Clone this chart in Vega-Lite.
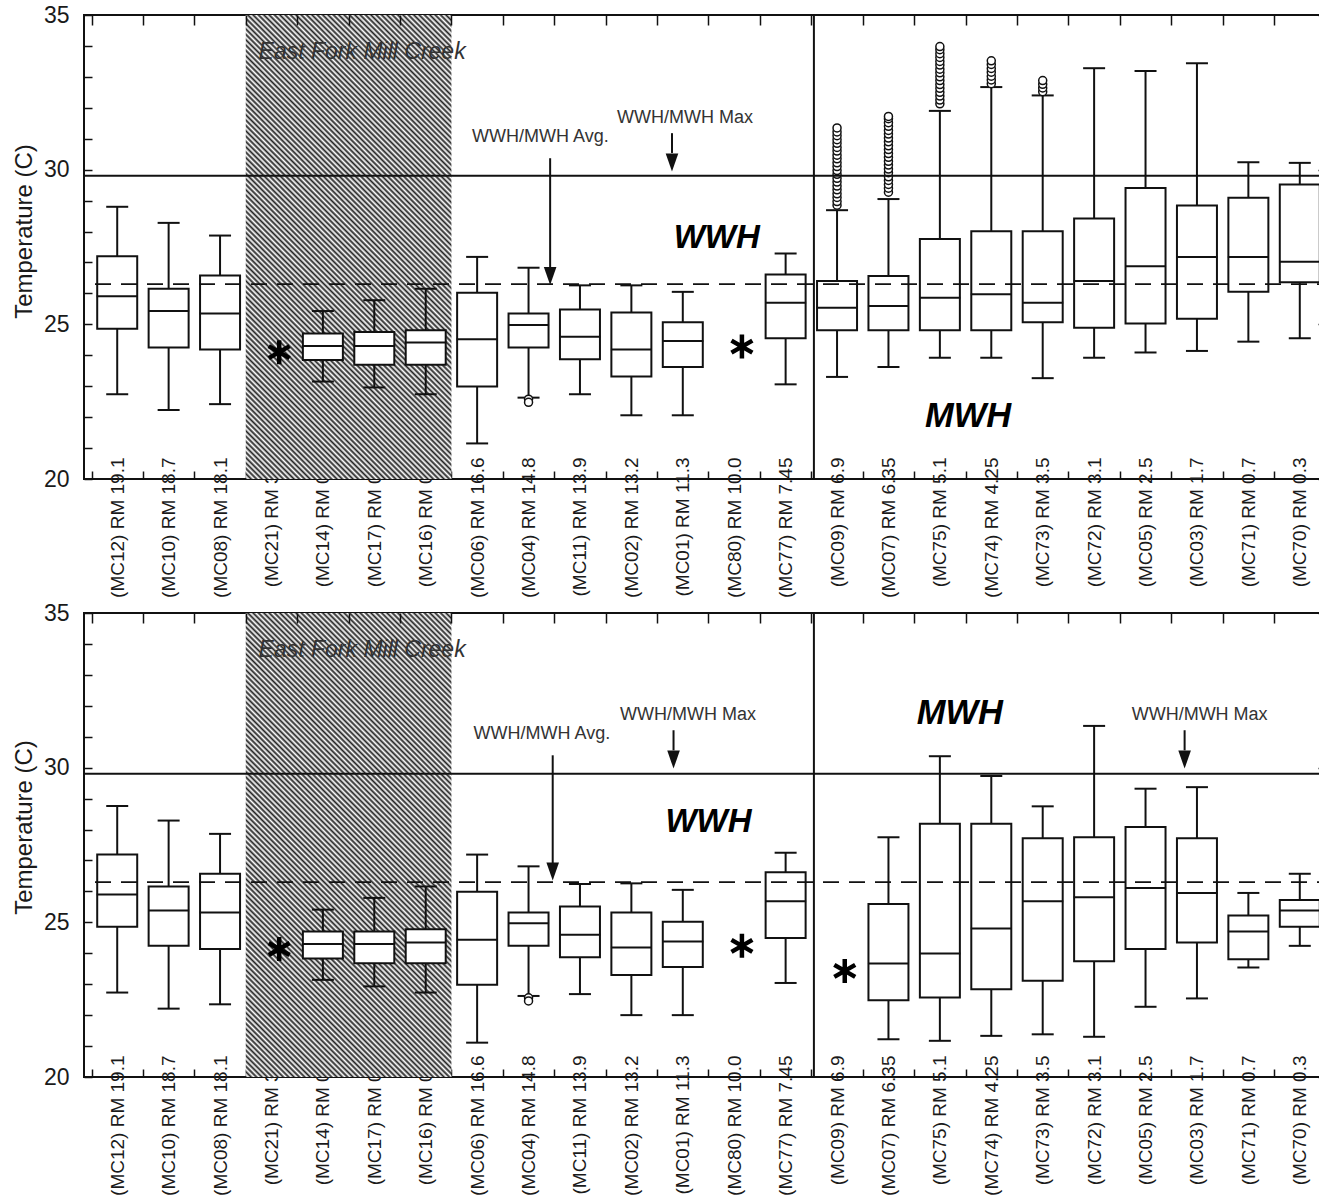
{
"$schema":"https://vega.github.io/schema/vega-lite/v6.json",
"background":"white",
"padding":{"left":11,"top":3,"right":-15,"bottom":0},
"spacing":2,
"config":{
 "view":{"stroke":"#111","strokeWidth":2},
 "font":"Liberation Sans",
 "axis":{"grid":false,"domain":false,"tickColor":"#111","tickWidth":1.5,"labelColor":"#1a1a1a","titleColor":"#1a1a1a","labelFont":"Liberation Sans","titleFont":"Liberation Sans","titleFontWeight":"normal"}
},
"datasets":{
 "hatch":[{"from":"(MC21) RM 3.3","to":"(MC16) RM 0.1"}],
 "boxes":[
{"panel":"top","site":"(MC12) RM 19.1","lo":22.74,"q1":24.86,"med":25.91,"q3":27.2,"hi":28.8},
{"panel":"top","site":"(MC10) RM 18.7","lo":22.23,"q1":24.25,"med":25.43,"q3":26.15,"hi":28.28},
{"panel":"top","site":"(MC08) RM 18.1","lo":22.42,"q1":24.19,"med":25.35,"q3":26.58,"hi":27.87},
{"panel":"top","site":"(MC14) RM 0.7","lo":23.15,"q1":23.85,"med":24.3,"q3":24.7,"hi":25.43},
{"panel":"top","site":"(MC17) RM 0.3","lo":22.96,"q1":23.69,"med":24.3,"q3":24.75,"hi":25.78},
{"panel":"top","site":"(MC16) RM 0.1","lo":22.74,"q1":23.69,"med":24.41,"q3":24.81,"hi":26.15},
{"panel":"top","site":"(MC06) RM 16.6","lo":21.15,"q1":22.99,"med":24.52,"q3":26.02,"hi":27.18},
{"panel":"top","site":"(MC04) RM 14.8","lo":22.63,"q1":24.25,"med":24.98,"q3":25.35,"hi":26.83},
{"panel":"top","site":"(MC11) RM 13.9","lo":22.74,"q1":23.87,"med":24.6,"q3":25.48,"hi":26.26},
{"panel":"top","site":"(MC02) RM 13.2","lo":22.06,"q1":23.31,"med":24.19,"q3":25.38,"hi":26.26},
{"panel":"top","site":"(MC01) RM 11.3","lo":22.06,"q1":23.62,"med":24.46,"q3":25.07,"hi":26.05},
{"panel":"top","site":"(MC77) RM 7.45","lo":23.06,"q1":24.55,"med":25.7,"q3":26.61,"hi":27.29},
{"panel":"top","site":"(MC09) RM 6.9","lo":23.3,"q1":24.81,"med":25.54,"q3":26.4,"hi":28.69},
{"panel":"top","site":"(MC07) RM 6.35","lo":23.62,"q1":24.81,"med":25.59,"q3":26.56,"hi":29.05},
{"panel":"top","site":"(MC75) RM 5.1","lo":23.92,"q1":24.81,"med":25.86,"q3":27.76,"hi":31.9},
{"panel":"top","site":"(MC74) RM 4.25","lo":23.92,"q1":24.81,"med":25.97,"q3":28.01,"hi":32.67},
{"panel":"top","site":"(MC73) RM 3.5","lo":23.26,"q1":25.07,"med":25.7,"q3":28.01,"hi":32.4},
{"panel":"top","site":"(MC72) RM 3.1","lo":23.92,"q1":24.89,"med":26.4,"q3":28.42,"hi":33.28},
{"panel":"top","site":"(MC05) RM 2.5","lo":24.09,"q1":25.03,"med":26.88,"q3":29.41,"hi":33.19},
{"panel":"top","site":"(MC03) RM 1.7","lo":24.14,"q1":25.18,"med":27.18,"q3":28.84,"hi":33.44},
{"panel":"top","site":"(MC71) RM 0.7","lo":24.44,"q1":26.05,"med":27.18,"q3":29.09,"hi":30.24},
{"panel":"top","site":"(MC70) RM 0.3","lo":24.55,"q1":26.36,"med":27.02,"q3":29.52,"hi":30.22},
{"panel":"bottom","site":"(MC12) RM 19.1","lo":22.73,"q1":24.86,"med":25.9,"q3":27.19,"hi":28.76},
{"panel":"bottom","site":"(MC10) RM 18.7","lo":22.21,"q1":24.24,"med":25.38,"q3":26.16,"hi":28.29},
{"panel":"bottom","site":"(MC08) RM 18.1","lo":22.35,"q1":24.14,"med":25.32,"q3":26.57,"hi":27.86},
{"panel":"bottom","site":"(MC14) RM 0.7","lo":23.14,"q1":23.83,"med":24.3,"q3":24.7,"hi":25.41},
{"panel":"bottom","site":"(MC17) RM 0.3","lo":22.93,"q1":23.68,"med":24.3,"q3":24.7,"hi":25.79},
{"panel":"bottom","site":"(MC16) RM 0.1","lo":22.73,"q1":23.68,"med":24.35,"q3":24.78,"hi":26.16},
{"panel":"bottom","site":"(MC06) RM 16.6","lo":21.11,"q1":22.98,"med":24.44,"q3":25.99,"hi":27.19},
{"panel":"bottom","site":"(MC04) RM 14.8","lo":22.62,"q1":24.24,"med":24.97,"q3":25.32,"hi":26.81},
{"panel":"bottom","site":"(MC11) RM 13.9","lo":22.68,"q1":23.87,"med":24.6,"q3":25.51,"hi":26.24},
{"panel":"bottom","site":"(MC02) RM 13.2","lo":22.0,"q1":23.3,"med":24.19,"q3":25.32,"hi":26.26},
{"panel":"bottom","site":"(MC01) RM 11.3","lo":22.0,"q1":23.56,"med":24.38,"q3":25.02,"hi":26.05},
{"panel":"bottom","site":"(MC77) RM 7.45","lo":23.04,"q1":24.49,"med":25.68,"q3":26.62,"hi":27.25},
{"panel":"bottom","site":"(MC07) RM 6.35","lo":21.22,"q1":22.48,"med":23.67,"q3":25.59,"hi":27.75},
{"panel":"bottom","site":"(MC75) RM 5.1","lo":21.17,"q1":22.57,"med":23.99,"q3":28.19,"hi":30.37},
{"panel":"bottom","site":"(MC74) RM 4.25","lo":21.33,"q1":22.84,"med":24.8,"q3":28.19,"hi":29.73},
{"panel":"bottom","site":"(MC73) RM 3.5","lo":21.38,"q1":23.11,"med":25.68,"q3":27.72,"hi":28.75},
{"panel":"bottom","site":"(MC72) RM 3.1","lo":21.3,"q1":23.74,"med":25.81,"q3":27.75,"hi":31.35},
{"panel":"bottom","site":"(MC05) RM 2.5","lo":22.27,"q1":24.14,"med":26.11,"q3":28.08,"hi":29.32},
{"panel":"bottom","site":"(MC03) RM 1.7","lo":22.54,"q1":24.35,"med":25.95,"q3":27.72,"hi":29.37},
{"panel":"bottom","site":"(MC71) RM 0.7","lo":23.54,"q1":23.81,"med":24.7,"q3":25.22,"hi":25.95},
{"panel":"bottom","site":"(MC70) RM 0.3","lo":24.24,"q1":24.86,"med":25.38,"q3":25.72,"hi":26.57}
 ],
 "outliers":[
{"panel":"top","site":"(MC04) RM 14.8","v":22.58},{"panel":"top","site":"(MC04) RM 14.8","v":22.48},
{"panel":"top","site":"(MC09) RM 6.9","v":28.85},{"panel":"top","site":"(MC09) RM 6.9","v":28.97},{"panel":"top","site":"(MC09) RM 6.9","v":29.1},{"panel":"top","site":"(MC09) RM 6.9","v":29.22},{"panel":"top","site":"(MC09) RM 6.9","v":29.35},{"panel":"top","site":"(MC09) RM 6.9","v":29.47},{"panel":"top","site":"(MC09) RM 6.9","v":29.6},{"panel":"top","site":"(MC09) RM 6.9","v":29.72},{"panel":"top","site":"(MC09) RM 6.9","v":29.85},{"panel":"top","site":"(MC09) RM 6.9","v":29.97},{"panel":"top","site":"(MC09) RM 6.9","v":30.1},{"panel":"top","site":"(MC09) RM 6.9","v":30.22},{"panel":"top","site":"(MC09) RM 6.9","v":30.35},{"panel":"top","site":"(MC09) RM 6.9","v":30.47},{"panel":"top","site":"(MC09) RM 6.9","v":30.6},{"panel":"top","site":"(MC09) RM 6.9","v":30.72},{"panel":"top","site":"(MC09) RM 6.9","v":30.85},{"panel":"top","site":"(MC09) RM 6.9","v":30.97},{"panel":"top","site":"(MC09) RM 6.9","v":31.1},{"panel":"top","site":"(MC09) RM 6.9","v":31.22},{"panel":"top","site":"(MC09) RM 6.9","v":31.35},
{"panel":"top","site":"(MC07) RM 6.35","v":29.27},{"panel":"top","site":"(MC07) RM 6.35","v":29.4},{"panel":"top","site":"(MC07) RM 6.35","v":29.52},{"panel":"top","site":"(MC07) RM 6.35","v":29.65},{"panel":"top","site":"(MC07) RM 6.35","v":29.77},{"panel":"top","site":"(MC07) RM 6.35","v":29.9},{"panel":"top","site":"(MC07) RM 6.35","v":30.02},{"panel":"top","site":"(MC07) RM 6.35","v":30.15},{"panel":"top","site":"(MC07) RM 6.35","v":30.27},{"panel":"top","site":"(MC07) RM 6.35","v":30.4},{"panel":"top","site":"(MC07) RM 6.35","v":30.52},{"panel":"top","site":"(MC07) RM 6.35","v":30.65},{"panel":"top","site":"(MC07) RM 6.35","v":30.77},{"panel":"top","site":"(MC07) RM 6.35","v":30.9},{"panel":"top","site":"(MC07) RM 6.35","v":31.02},{"panel":"top","site":"(MC07) RM 6.35","v":31.15},{"panel":"top","site":"(MC07) RM 6.35","v":31.27},{"panel":"top","site":"(MC07) RM 6.35","v":31.4},{"panel":"top","site":"(MC07) RM 6.35","v":31.52},{"panel":"top","site":"(MC07) RM 6.35","v":31.65},{"panel":"top","site":"(MC07) RM 6.35","v":31.72},
{"panel":"top","site":"(MC75) RM 5.1","v":32.13},{"panel":"top","site":"(MC75) RM 5.1","v":32.25},{"panel":"top","site":"(MC75) RM 5.1","v":32.38},{"panel":"top","site":"(MC75) RM 5.1","v":32.5},{"panel":"top","site":"(MC75) RM 5.1","v":32.63},{"panel":"top","site":"(MC75) RM 5.1","v":32.75},{"panel":"top","site":"(MC75) RM 5.1","v":32.88},{"panel":"top","site":"(MC75) RM 5.1","v":33.0},{"panel":"top","site":"(MC75) RM 5.1","v":33.13},{"panel":"top","site":"(MC75) RM 5.1","v":33.25},{"panel":"top","site":"(MC75) RM 5.1","v":33.38},{"panel":"top","site":"(MC75) RM 5.1","v":33.5},{"panel":"top","site":"(MC75) RM 5.1","v":33.63},{"panel":"top","site":"(MC75) RM 5.1","v":33.75},{"panel":"top","site":"(MC75) RM 5.1","v":33.88},{"panel":"top","site":"(MC75) RM 5.1","v":33.98},
{"panel":"top","site":"(MC74) RM 4.25","v":32.78},{"panel":"top","site":"(MC74) RM 4.25","v":32.9},{"panel":"top","site":"(MC74) RM 4.25","v":33.02},{"panel":"top","site":"(MC74) RM 4.25","v":33.15},{"panel":"top","site":"(MC74) RM 4.25","v":33.27},{"panel":"top","site":"(MC74) RM 4.25","v":33.4},{"panel":"top","site":"(MC74) RM 4.25","v":33.52},
{"panel":"top","site":"(MC73) RM 3.5","v":32.52},{"panel":"top","site":"(MC73) RM 3.5","v":32.64},{"panel":"top","site":"(MC73) RM 3.5","v":32.76},{"panel":"top","site":"(MC73) RM 3.5","v":32.88},
{"panel":"bottom","site":"(MC04) RM 14.8","v":22.56},{"panel":"bottom","site":"(MC04) RM 14.8","v":22.46}
 ],
 "stars":[
{"panel":"top","site":"(MC21) RM 3.3","v":24.1},{"panel":"top","site":"(MC80) RM 10.0","v":24.28},
{"panel":"bottom","site":"(MC21) RM 3.3","v":24.14},{"panel":"bottom","site":"(MC80) RM 10.0","v":24.24},{"panel":"bottom","site":"(MC09) RM 6.9","v":23.43}
 ]
},
"vconcat":[
{
"width":1249,"height":464,
"layer":[
 {"data":{"name":"hatch"},"mark":{"type":"rect","stroke":null,"fill":{"gradient":"linear","x1":0,"y1":1,"x2":0.5347,"y2":-0.2062,"stops":[
{"offset":0,"color":"#222"},{"offset":0.004,"color":"#fff"},{"offset":0.008,"color":"#222"},{"offset":0.012,"color":"#fff"},{"offset":0.016,"color":"#222"},{"offset":0.02,"color":"#fff"},{"offset":0.024,"color":"#222"},{"offset":0.028,"color":"#fff"},{"offset":0.032,"color":"#222"},{"offset":0.036,"color":"#fff"},{"offset":0.04,"color":"#222"},{"offset":0.044,"color":"#fff"},{"offset":0.048,"color":"#222"},{"offset":0.052,"color":"#fff"},{"offset":0.056,"color":"#222"},{"offset":0.06,"color":"#fff"},{"offset":0.064,"color":"#222"},{"offset":0.068,"color":"#fff"},{"offset":0.072,"color":"#222"},{"offset":0.076,"color":"#fff"},{"offset":0.08,"color":"#222"},{"offset":0.084,"color":"#fff"},{"offset":0.088,"color":"#222"},{"offset":0.092,"color":"#fff"},{"offset":0.096,"color":"#222"},
{"offset":0.1,"color":"#fff"},{"offset":0.104,"color":"#222"},{"offset":0.108,"color":"#fff"},{"offset":0.112,"color":"#222"},{"offset":0.116,"color":"#fff"},{"offset":0.12,"color":"#222"},{"offset":0.124,"color":"#fff"},{"offset":0.128,"color":"#222"},{"offset":0.132,"color":"#fff"},{"offset":0.136,"color":"#222"},{"offset":0.14,"color":"#fff"},{"offset":0.144,"color":"#222"},{"offset":0.148,"color":"#fff"},{"offset":0.152,"color":"#222"},{"offset":0.156,"color":"#fff"},{"offset":0.16,"color":"#222"},{"offset":0.164,"color":"#fff"},{"offset":0.168,"color":"#222"},{"offset":0.172,"color":"#fff"},{"offset":0.176,"color":"#222"},{"offset":0.18,"color":"#fff"},{"offset":0.184,"color":"#222"},{"offset":0.188,"color":"#fff"},{"offset":0.192,"color":"#222"},{"offset":0.196,"color":"#fff"},
{"offset":0.2,"color":"#222"},{"offset":0.204,"color":"#fff"},{"offset":0.208,"color":"#222"},{"offset":0.212,"color":"#fff"},{"offset":0.216,"color":"#222"},{"offset":0.22,"color":"#fff"},{"offset":0.224,"color":"#222"},{"offset":0.228,"color":"#fff"},{"offset":0.232,"color":"#222"},{"offset":0.236,"color":"#fff"},{"offset":0.24,"color":"#222"},{"offset":0.244,"color":"#fff"},{"offset":0.248,"color":"#222"},{"offset":0.252,"color":"#fff"},{"offset":0.256,"color":"#222"},{"offset":0.26,"color":"#fff"},{"offset":0.264,"color":"#222"},{"offset":0.268,"color":"#fff"},{"offset":0.272,"color":"#222"},{"offset":0.276,"color":"#fff"},{"offset":0.28,"color":"#222"},{"offset":0.284,"color":"#fff"},{"offset":0.288,"color":"#222"},{"offset":0.292,"color":"#fff"},{"offset":0.296,"color":"#222"},
{"offset":0.3,"color":"#fff"},{"offset":0.304,"color":"#222"},{"offset":0.308,"color":"#fff"},{"offset":0.312,"color":"#222"},{"offset":0.316,"color":"#fff"},{"offset":0.32,"color":"#222"},{"offset":0.324,"color":"#fff"},{"offset":0.328,"color":"#222"},{"offset":0.332,"color":"#fff"},{"offset":0.336,"color":"#222"},{"offset":0.34,"color":"#fff"},{"offset":0.344,"color":"#222"},{"offset":0.348,"color":"#fff"},{"offset":0.352,"color":"#222"},{"offset":0.356,"color":"#fff"},{"offset":0.36,"color":"#222"},{"offset":0.364,"color":"#fff"},{"offset":0.368,"color":"#222"},{"offset":0.372,"color":"#fff"},{"offset":0.376,"color":"#222"},{"offset":0.38,"color":"#fff"},{"offset":0.384,"color":"#222"},{"offset":0.388,"color":"#fff"},{"offset":0.392,"color":"#222"},{"offset":0.396,"color":"#fff"},
{"offset":0.4,"color":"#222"},{"offset":0.404,"color":"#fff"},{"offset":0.408,"color":"#222"},{"offset":0.412,"color":"#fff"},{"offset":0.416,"color":"#222"},{"offset":0.42,"color":"#fff"},{"offset":0.424,"color":"#222"},{"offset":0.428,"color":"#fff"},{"offset":0.432,"color":"#222"},{"offset":0.436,"color":"#fff"},{"offset":0.44,"color":"#222"},{"offset":0.444,"color":"#fff"},{"offset":0.448,"color":"#222"},{"offset":0.452,"color":"#fff"},{"offset":0.456,"color":"#222"},{"offset":0.46,"color":"#fff"},{"offset":0.464,"color":"#222"},{"offset":0.468,"color":"#fff"},{"offset":0.472,"color":"#222"},{"offset":0.476,"color":"#fff"},{"offset":0.48,"color":"#222"},{"offset":0.484,"color":"#fff"},{"offset":0.488,"color":"#222"},{"offset":0.492,"color":"#fff"},{"offset":0.496,"color":"#222"},
{"offset":0.5,"color":"#fff"},{"offset":0.504,"color":"#222"},{"offset":0.508,"color":"#fff"},{"offset":0.512,"color":"#222"},{"offset":0.516,"color":"#fff"},{"offset":0.52,"color":"#222"},{"offset":0.524,"color":"#fff"},{"offset":0.528,"color":"#222"},{"offset":0.532,"color":"#fff"},{"offset":0.536,"color":"#222"},{"offset":0.54,"color":"#fff"},{"offset":0.544,"color":"#222"},{"offset":0.548,"color":"#fff"},{"offset":0.552,"color":"#222"},{"offset":0.556,"color":"#fff"},{"offset":0.56,"color":"#222"},{"offset":0.564,"color":"#fff"},{"offset":0.568,"color":"#222"},{"offset":0.572,"color":"#fff"},{"offset":0.576,"color":"#222"},{"offset":0.58,"color":"#fff"},{"offset":0.584,"color":"#222"},{"offset":0.588,"color":"#fff"},{"offset":0.592,"color":"#222"},{"offset":0.596,"color":"#fff"},
{"offset":0.6,"color":"#222"},{"offset":0.604,"color":"#fff"},{"offset":0.608,"color":"#222"},{"offset":0.612,"color":"#fff"},{"offset":0.616,"color":"#222"},{"offset":0.62,"color":"#fff"},{"offset":0.624,"color":"#222"},{"offset":0.628,"color":"#fff"},{"offset":0.632,"color":"#222"},{"offset":0.636,"color":"#fff"},{"offset":0.64,"color":"#222"},{"offset":0.644,"color":"#fff"},{"offset":0.648,"color":"#222"},{"offset":0.652,"color":"#fff"},{"offset":0.656,"color":"#222"},{"offset":0.66,"color":"#fff"},{"offset":0.664,"color":"#222"},{"offset":0.668,"color":"#fff"},{"offset":0.672,"color":"#222"},{"offset":0.676,"color":"#fff"},{"offset":0.68,"color":"#222"},{"offset":0.684,"color":"#fff"},{"offset":0.688,"color":"#222"},{"offset":0.692,"color":"#fff"},{"offset":0.696,"color":"#222"},
{"offset":0.7,"color":"#fff"},{"offset":0.704,"color":"#222"},{"offset":0.708,"color":"#fff"},{"offset":0.712,"color":"#222"},{"offset":0.716,"color":"#fff"},{"offset":0.72,"color":"#222"},{"offset":0.724,"color":"#fff"},{"offset":0.728,"color":"#222"},{"offset":0.732,"color":"#fff"},{"offset":0.736,"color":"#222"},{"offset":0.74,"color":"#fff"},{"offset":0.744,"color":"#222"},{"offset":0.748,"color":"#fff"},{"offset":0.752,"color":"#222"},{"offset":0.756,"color":"#fff"},{"offset":0.76,"color":"#222"},{"offset":0.764,"color":"#fff"},{"offset":0.768,"color":"#222"},{"offset":0.772,"color":"#fff"},{"offset":0.776,"color":"#222"},{"offset":0.78,"color":"#fff"},{"offset":0.784,"color":"#222"},{"offset":0.788,"color":"#fff"},{"offset":0.792,"color":"#222"},{"offset":0.796,"color":"#fff"},
{"offset":0.8,"color":"#222"},{"offset":0.804,"color":"#fff"},{"offset":0.808,"color":"#222"},{"offset":0.812,"color":"#fff"},{"offset":0.816,"color":"#222"},{"offset":0.82,"color":"#fff"},{"offset":0.824,"color":"#222"},{"offset":0.828,"color":"#fff"},{"offset":0.832,"color":"#222"},{"offset":0.836,"color":"#fff"},{"offset":0.84,"color":"#222"},{"offset":0.844,"color":"#fff"},{"offset":0.848,"color":"#222"},{"offset":0.852,"color":"#fff"},{"offset":0.856,"color":"#222"},{"offset":0.86,"color":"#fff"},{"offset":0.864,"color":"#222"},{"offset":0.868,"color":"#fff"},{"offset":0.872,"color":"#222"},{"offset":0.876,"color":"#fff"},{"offset":0.88,"color":"#222"},{"offset":0.884,"color":"#fff"},{"offset":0.888,"color":"#222"},{"offset":0.892,"color":"#fff"},{"offset":0.896,"color":"#222"},
{"offset":0.9,"color":"#fff"},{"offset":0.904,"color":"#222"},{"offset":0.908,"color":"#fff"},{"offset":0.912,"color":"#222"},{"offset":0.916,"color":"#fff"},{"offset":0.92,"color":"#222"},{"offset":0.924,"color":"#fff"},{"offset":0.928,"color":"#222"},{"offset":0.932,"color":"#fff"},{"offset":0.936,"color":"#222"},{"offset":0.94,"color":"#fff"},{"offset":0.944,"color":"#222"},{"offset":0.948,"color":"#fff"},{"offset":0.952,"color":"#222"},{"offset":0.956,"color":"#fff"},{"offset":0.96,"color":"#222"},{"offset":0.964,"color":"#fff"},{"offset":0.968,"color":"#222"},{"offset":0.972,"color":"#fff"},{"offset":0.976,"color":"#222"},{"offset":0.98,"color":"#fff"},{"offset":0.984,"color":"#222"},{"offset":0.988,"color":"#fff"},{"offset":0.992,"color":"#222"},{"offset":0.996,"color":"#fff"},
{"offset":1,"color":"#222"}]}},
  "encoding":{
   "x":{"field":"from","type":"nominal","bandPosition":0,"scale":{"type":"band","paddingInner":0,"paddingOuter":0.146,"domain":["(MC12) RM 19.1","(MC10) RM 18.7","(MC08) RM 18.1","(MC21) RM 3.3","(MC14) RM 0.7","(MC17) RM 0.3","(MC16) RM 0.1","(MC06) RM 16.6","(MC04) RM 14.8","(MC11) RM 13.9","(MC02) RM 13.2","(MC01) RM 11.3","(MC80) RM 10.0","(MC77) RM 7.45","(MC09) RM 6.9","(MC07) RM 6.35","(MC75) RM 5.1","(MC74) RM 4.25","(MC73) RM 3.5","(MC72) RM 3.1","(MC05) RM 2.5","(MC03) RM 1.7","(MC71) RM 0.7","(MC70) RM 0.3"]},
     "axis":{"orient":"top","labels":false,"title":null,"tickSize":-10,"tickBand":"extent","domain":false}},
   "x2":{"field":"to","bandPosition":1},
   "y":{"datum":35,"type":"quantitative","scale":{"domain":[20,35],"nice":false,"zero":false},
     "axis":{"orient":"right","values":[20,25,30,35],"labels":false,"title":null,"tickSize":-15,"domain":false}},
   "y2":{"datum":20}}},
 {"data":{"name":"boxes"},"transform":[{"filter":"datum.panel==='top'"}],
  "mark":{"type":"rule","color":"#111","strokeWidth":2},
  "encoding":{
   "x":{"field":"site","type":"nominal","axis":{"orient":"bottom","title":null,"labelAngle":-90,"labelFontSize":19,"labelPadding":-14,"tickSize":-8,"tickBand":"extent","domain":false}},
   "y":{"field":"lo","type":"quantitative","axis":{"orient":"left","title":"Temperature (C)","titleFontSize":24,"titlePadding":7,"titleY":216,"labelFontSize":23,"labelPadding":23,"tickSize":-8,"domain":false,"format":"d","values":[20,20.5,21,21.5,22,22.5,23,23.5,24,24.5,25,25.5,26,26.5,27,27.5,28,28.5,29,29.5,30,30.5,31,31.5,32,32.5,33,33.5,34,34.5,35],"labelExpr":"datum.value % 5 === 0 ? datum.label : ''"}},
   "y2":{"field":"hi"}}},
 {"data":{"name":"boxes"},"transform":[{"filter":"datum.panel==='top'"}],
  "mark":{"type":"tick","color":"#111","thickness":2,"size":22,"opacity":1},
  "encoding":{"x":{"field":"site","type":"nominal","axis":null},"y":{"field":"lo","type":"quantitative","axis":null}}},
 {"data":{"name":"boxes"},"transform":[{"filter":"datum.panel==='top'"}],
  "mark":{"type":"tick","color":"#111","thickness":2,"size":22,"opacity":1},
  "encoding":{"x":{"field":"site","type":"nominal","axis":null},"y":{"field":"hi","type":"quantitative","axis":null}}},
 {"data":{"name":"boxes"},"transform":[{"filter":"datum.panel==='top'"}],
  "mark":{"type":"bar","fill":"white","stroke":"#111","strokeWidth":2,"width":40},
  "encoding":{"x":{"field":"site","type":"nominal","axis":null},"y":{"field":"q1","type":"quantitative","axis":null},"y2":{"field":"q3"}}},
 {"data":{"name":"boxes"},"transform":[{"filter":"datum.panel==='top'"}],
  "mark":{"type":"tick","color":"#111","thickness":2,"size":41,"opacity":1},
  "encoding":{"x":{"field":"site","type":"nominal","axis":null},"y":{"field":"med","type":"quantitative","axis":null}}},
 {"data":{"name":"outliers"},"transform":[{"filter":"datum.panel==='top'"}],
  "mark":{"type":"point","shape":"circle","filled":true,"fill":"white","stroke":"#111","strokeWidth":1.5,"size":64,"opacity":1},
  "encoding":{"x":{"field":"site","type":"nominal","axis":null},"y":{"field":"v","type":"quantitative","axis":null}}},
 {"data":{"values":[{"limit":"WWH/MWH Max","v":29.8}]},
  "mark":{"type":"rule","color":"#111","strokeWidth":2},
  "encoding":{"y":{"field":"v","type":"quantitative","axis":null}}},
 {"data":{"values":[{"limit":"WWH/MWH Avg.","v":26.3}]},
  "mark":{"type":"rule","color":"#111","strokeWidth":1.8,"strokeDash":[16,10]},
  "encoding":{"y":{"field":"v","type":"quantitative","axis":null}}},
 {"data":{"values":[{"site":"(MC09) RM 6.9"}]},
  "mark":{"type":"rule","color":"#111","strokeWidth":2},
  "encoding":{"x":{"field":"site","type":"nominal","bandPosition":0.05,"axis":null}}},
 {"data":{"name":"stars"},"transform":[{"filter":"datum.panel==='top'"}],
  "mark":{"type":"point","shape":"M0,-1L0,1M-0.87,-0.5L0.87,0.5M-0.87,0.5L0.87,-0.5","size":576,"filled":false,"stroke":"#000","strokeWidth":4.5,"opacity":1},
  "encoding":{"x":{"field":"site","type":"nominal","bandPosition":0.65,"axis":null},"y":{"field":"v","type":"quantitative","axis":null}}},
 {"data":{"values":[{"site":"(MC21) RM 3.3","v":33.81,"label":"East Fork Mill Creek"}]},
  "mark":{"type":"text","align":"left","baseline":"middle","fontSize":23,"fontStyle":"italic","color":"#333"},
  "encoding":{"x":{"field":"site","type":"nominal","bandPosition":0.25,"axis":null},"y":{"field":"v","type":"quantitative","axis":null},"text":{"field":"label"}}},
 {"data":{"values":[{"site":"(MC06) RM 16.6","v":31.07,"label":"WWH/MWH Avg."}]},
  "mark":{"type":"text","align":"left","baseline":"middle","fontSize":18,"color":"#333"},
  "encoding":{"x":{"field":"site","type":"nominal","bandPosition":0.4,"axis":null},"y":{"field":"v","type":"quantitative","axis":null},"text":{"field":"label"}}},
 {"data":{"values":[{"site":"(MC02) RM 13.2","v":31.66,"label":"WWH/MWH Max"}]},
  "mark":{"type":"text","align":"left","baseline":"middle","fontSize":18,"color":"#333"},
  "encoding":{"x":{"field":"site","type":"nominal","bandPosition":0.22,"axis":null},"y":{"field":"v","type":"quantitative","axis":null},"text":{"field":"label"}}},
 {"data":{"values":[{"site":"(MC80) RM 10.0","v":27.78,"label":"WWH"}]},
  "mark":{"type":"text","align":"center","baseline":"middle","fontSize":33,"fontStyle":"italic","fontWeight":"bold","color":"#000"},
  "encoding":{"x":{"field":"site","type":"nominal","bandPosition":0.16,"axis":null},"y":{"field":"v","type":"quantitative","axis":null},"text":{"field":"label"}}},
 {"data":{"values":[{"site":"(MC74) RM 4.25","v":22.01,"label":"MWH"}]},
  "mark":{"type":"text","align":"center","baseline":"middle","fontSize":34.5,"fontStyle":"italic","fontWeight":"bold","color":"#000"},
  "encoding":{"x":{"field":"site","type":"nominal","bandPosition":0.05,"axis":null},"y":{"field":"v","type":"quantitative","axis":null},"text":{"field":"label"}}},
 {"data":{"values":[{"site":"(MC04) RM 14.8","top":30.37,"bottom":26.85,"tip":26.56}]},
  "encoding":{"x":{"field":"site","type":"nominal","bandPosition":0.92,"axis":null}},
  "layer":[
   {"mark":{"type":"rule","color":"#111","strokeWidth":2},"encoding":{"y":{"field":"top","type":"quantitative","axis":null},"y2":{"field":"bottom"}}},
   {"mark":{"type":"point","shape":"M-0.7,-1L0.7,-1L0,1Z","size":324,"filled":true,"color":"#111","opacity":1},"encoding":{"y":{"field":"tip","type":"quantitative","axis":null}}}]},
 {"data":{"values":[{"site":"(MC01) RM 11.3","top":31.18,"bottom":30.54,"tip":30.23}]},
  "encoding":{"x":{"field":"site","type":"nominal","bandPosition":0.29,"axis":null}},
  "layer":[
   {"mark":{"type":"rule","color":"#111","strokeWidth":2},"encoding":{"y":{"field":"top","type":"quantitative","axis":null},"y2":{"field":"bottom"}}},
   {"mark":{"type":"point","shape":"M-0.7,-1L0.7,-1L0,1Z","size":324,"filled":true,"color":"#111","opacity":1},"encoding":{"y":{"field":"tip","type":"quantitative","axis":null}}}]}
]
},
{
"width":1249,"height":464,
"layer":[
 {"data":{"name":"hatch"},"mark":{"type":"rect","stroke":null,"fill":{"gradient":"linear","x1":0,"y1":1,"x2":0.5347,"y2":-0.2062,"stops":[
{"offset":0,"color":"#222"},{"offset":0.004,"color":"#fff"},{"offset":0.008,"color":"#222"},{"offset":0.012,"color":"#fff"},{"offset":0.016,"color":"#222"},{"offset":0.02,"color":"#fff"},{"offset":0.024,"color":"#222"},{"offset":0.028,"color":"#fff"},{"offset":0.032,"color":"#222"},{"offset":0.036,"color":"#fff"},{"offset":0.04,"color":"#222"},{"offset":0.044,"color":"#fff"},{"offset":0.048,"color":"#222"},{"offset":0.052,"color":"#fff"},{"offset":0.056,"color":"#222"},{"offset":0.06,"color":"#fff"},{"offset":0.064,"color":"#222"},{"offset":0.068,"color":"#fff"},{"offset":0.072,"color":"#222"},{"offset":0.076,"color":"#fff"},{"offset":0.08,"color":"#222"},{"offset":0.084,"color":"#fff"},{"offset":0.088,"color":"#222"},{"offset":0.092,"color":"#fff"},{"offset":0.096,"color":"#222"},
{"offset":0.1,"color":"#fff"},{"offset":0.104,"color":"#222"},{"offset":0.108,"color":"#fff"},{"offset":0.112,"color":"#222"},{"offset":0.116,"color":"#fff"},{"offset":0.12,"color":"#222"},{"offset":0.124,"color":"#fff"},{"offset":0.128,"color":"#222"},{"offset":0.132,"color":"#fff"},{"offset":0.136,"color":"#222"},{"offset":0.14,"color":"#fff"},{"offset":0.144,"color":"#222"},{"offset":0.148,"color":"#fff"},{"offset":0.152,"color":"#222"},{"offset":0.156,"color":"#fff"},{"offset":0.16,"color":"#222"},{"offset":0.164,"color":"#fff"},{"offset":0.168,"color":"#222"},{"offset":0.172,"color":"#fff"},{"offset":0.176,"color":"#222"},{"offset":0.18,"color":"#fff"},{"offset":0.184,"color":"#222"},{"offset":0.188,"color":"#fff"},{"offset":0.192,"color":"#222"},{"offset":0.196,"color":"#fff"},
{"offset":0.2,"color":"#222"},{"offset":0.204,"color":"#fff"},{"offset":0.208,"color":"#222"},{"offset":0.212,"color":"#fff"},{"offset":0.216,"color":"#222"},{"offset":0.22,"color":"#fff"},{"offset":0.224,"color":"#222"},{"offset":0.228,"color":"#fff"},{"offset":0.232,"color":"#222"},{"offset":0.236,"color":"#fff"},{"offset":0.24,"color":"#222"},{"offset":0.244,"color":"#fff"},{"offset":0.248,"color":"#222"},{"offset":0.252,"color":"#fff"},{"offset":0.256,"color":"#222"},{"offset":0.26,"color":"#fff"},{"offset":0.264,"color":"#222"},{"offset":0.268,"color":"#fff"},{"offset":0.272,"color":"#222"},{"offset":0.276,"color":"#fff"},{"offset":0.28,"color":"#222"},{"offset":0.284,"color":"#fff"},{"offset":0.288,"color":"#222"},{"offset":0.292,"color":"#fff"},{"offset":0.296,"color":"#222"},
{"offset":0.3,"color":"#fff"},{"offset":0.304,"color":"#222"},{"offset":0.308,"color":"#fff"},{"offset":0.312,"color":"#222"},{"offset":0.316,"color":"#fff"},{"offset":0.32,"color":"#222"},{"offset":0.324,"color":"#fff"},{"offset":0.328,"color":"#222"},{"offset":0.332,"color":"#fff"},{"offset":0.336,"color":"#222"},{"offset":0.34,"color":"#fff"},{"offset":0.344,"color":"#222"},{"offset":0.348,"color":"#fff"},{"offset":0.352,"color":"#222"},{"offset":0.356,"color":"#fff"},{"offset":0.36,"color":"#222"},{"offset":0.364,"color":"#fff"},{"offset":0.368,"color":"#222"},{"offset":0.372,"color":"#fff"},{"offset":0.376,"color":"#222"},{"offset":0.38,"color":"#fff"},{"offset":0.384,"color":"#222"},{"offset":0.388,"color":"#fff"},{"offset":0.392,"color":"#222"},{"offset":0.396,"color":"#fff"},
{"offset":0.4,"color":"#222"},{"offset":0.404,"color":"#fff"},{"offset":0.408,"color":"#222"},{"offset":0.412,"color":"#fff"},{"offset":0.416,"color":"#222"},{"offset":0.42,"color":"#fff"},{"offset":0.424,"color":"#222"},{"offset":0.428,"color":"#fff"},{"offset":0.432,"color":"#222"},{"offset":0.436,"color":"#fff"},{"offset":0.44,"color":"#222"},{"offset":0.444,"color":"#fff"},{"offset":0.448,"color":"#222"},{"offset":0.452,"color":"#fff"},{"offset":0.456,"color":"#222"},{"offset":0.46,"color":"#fff"},{"offset":0.464,"color":"#222"},{"offset":0.468,"color":"#fff"},{"offset":0.472,"color":"#222"},{"offset":0.476,"color":"#fff"},{"offset":0.48,"color":"#222"},{"offset":0.484,"color":"#fff"},{"offset":0.488,"color":"#222"},{"offset":0.492,"color":"#fff"},{"offset":0.496,"color":"#222"},
{"offset":0.5,"color":"#fff"},{"offset":0.504,"color":"#222"},{"offset":0.508,"color":"#fff"},{"offset":0.512,"color":"#222"},{"offset":0.516,"color":"#fff"},{"offset":0.52,"color":"#222"},{"offset":0.524,"color":"#fff"},{"offset":0.528,"color":"#222"},{"offset":0.532,"color":"#fff"},{"offset":0.536,"color":"#222"},{"offset":0.54,"color":"#fff"},{"offset":0.544,"color":"#222"},{"offset":0.548,"color":"#fff"},{"offset":0.552,"color":"#222"},{"offset":0.556,"color":"#fff"},{"offset":0.56,"color":"#222"},{"offset":0.564,"color":"#fff"},{"offset":0.568,"color":"#222"},{"offset":0.572,"color":"#fff"},{"offset":0.576,"color":"#222"},{"offset":0.58,"color":"#fff"},{"offset":0.584,"color":"#222"},{"offset":0.588,"color":"#fff"},{"offset":0.592,"color":"#222"},{"offset":0.596,"color":"#fff"},
{"offset":0.6,"color":"#222"},{"offset":0.604,"color":"#fff"},{"offset":0.608,"color":"#222"},{"offset":0.612,"color":"#fff"},{"offset":0.616,"color":"#222"},{"offset":0.62,"color":"#fff"},{"offset":0.624,"color":"#222"},{"offset":0.628,"color":"#fff"},{"offset":0.632,"color":"#222"},{"offset":0.636,"color":"#fff"},{"offset":0.64,"color":"#222"},{"offset":0.644,"color":"#fff"},{"offset":0.648,"color":"#222"},{"offset":0.652,"color":"#fff"},{"offset":0.656,"color":"#222"},{"offset":0.66,"color":"#fff"},{"offset":0.664,"color":"#222"},{"offset":0.668,"color":"#fff"},{"offset":0.672,"color":"#222"},{"offset":0.676,"color":"#fff"},{"offset":0.68,"color":"#222"},{"offset":0.684,"color":"#fff"},{"offset":0.688,"color":"#222"},{"offset":0.692,"color":"#fff"},{"offset":0.696,"color":"#222"},
{"offset":0.7,"color":"#fff"},{"offset":0.704,"color":"#222"},{"offset":0.708,"color":"#fff"},{"offset":0.712,"color":"#222"},{"offset":0.716,"color":"#fff"},{"offset":0.72,"color":"#222"},{"offset":0.724,"color":"#fff"},{"offset":0.728,"color":"#222"},{"offset":0.732,"color":"#fff"},{"offset":0.736,"color":"#222"},{"offset":0.74,"color":"#fff"},{"offset":0.744,"color":"#222"},{"offset":0.748,"color":"#fff"},{"offset":0.752,"color":"#222"},{"offset":0.756,"color":"#fff"},{"offset":0.76,"color":"#222"},{"offset":0.764,"color":"#fff"},{"offset":0.768,"color":"#222"},{"offset":0.772,"color":"#fff"},{"offset":0.776,"color":"#222"},{"offset":0.78,"color":"#fff"},{"offset":0.784,"color":"#222"},{"offset":0.788,"color":"#fff"},{"offset":0.792,"color":"#222"},{"offset":0.796,"color":"#fff"},
{"offset":0.8,"color":"#222"},{"offset":0.804,"color":"#fff"},{"offset":0.808,"color":"#222"},{"offset":0.812,"color":"#fff"},{"offset":0.816,"color":"#222"},{"offset":0.82,"color":"#fff"},{"offset":0.824,"color":"#222"},{"offset":0.828,"color":"#fff"},{"offset":0.832,"color":"#222"},{"offset":0.836,"color":"#fff"},{"offset":0.84,"color":"#222"},{"offset":0.844,"color":"#fff"},{"offset":0.848,"color":"#222"},{"offset":0.852,"color":"#fff"},{"offset":0.856,"color":"#222"},{"offset":0.86,"color":"#fff"},{"offset":0.864,"color":"#222"},{"offset":0.868,"color":"#fff"},{"offset":0.872,"color":"#222"},{"offset":0.876,"color":"#fff"},{"offset":0.88,"color":"#222"},{"offset":0.884,"color":"#fff"},{"offset":0.888,"color":"#222"},{"offset":0.892,"color":"#fff"},{"offset":0.896,"color":"#222"},
{"offset":0.9,"color":"#fff"},{"offset":0.904,"color":"#222"},{"offset":0.908,"color":"#fff"},{"offset":0.912,"color":"#222"},{"offset":0.916,"color":"#fff"},{"offset":0.92,"color":"#222"},{"offset":0.924,"color":"#fff"},{"offset":0.928,"color":"#222"},{"offset":0.932,"color":"#fff"},{"offset":0.936,"color":"#222"},{"offset":0.94,"color":"#fff"},{"offset":0.944,"color":"#222"},{"offset":0.948,"color":"#fff"},{"offset":0.952,"color":"#222"},{"offset":0.956,"color":"#fff"},{"offset":0.96,"color":"#222"},{"offset":0.964,"color":"#fff"},{"offset":0.968,"color":"#222"},{"offset":0.972,"color":"#fff"},{"offset":0.976,"color":"#222"},{"offset":0.98,"color":"#fff"},{"offset":0.984,"color":"#222"},{"offset":0.988,"color":"#fff"},{"offset":0.992,"color":"#222"},{"offset":0.996,"color":"#fff"},
{"offset":1,"color":"#222"}]}},
  "encoding":{
   "x":{"field":"from","type":"nominal","bandPosition":0,"scale":{"type":"band","paddingInner":0,"paddingOuter":0.146,"domain":["(MC12) RM 19.1","(MC10) RM 18.7","(MC08) RM 18.1","(MC21) RM 3.3","(MC14) RM 0.7","(MC17) RM 0.3","(MC16) RM 0.1","(MC06) RM 16.6","(MC04) RM 14.8","(MC11) RM 13.9","(MC02) RM 13.2","(MC01) RM 11.3","(MC80) RM 10.0","(MC77) RM 7.45","(MC09) RM 6.9","(MC07) RM 6.35","(MC75) RM 5.1","(MC74) RM 4.25","(MC73) RM 3.5","(MC72) RM 3.1","(MC05) RM 2.5","(MC03) RM 1.7","(MC71) RM 0.7","(MC70) RM 0.3"]},
     "axis":{"orient":"top","labels":false,"title":null,"tickSize":-10,"tickBand":"extent","domain":false}},
   "x2":{"field":"to","bandPosition":1},
   "y":{"datum":35,"type":"quantitative","scale":{"domain":[20,35],"nice":false,"zero":false},
     "axis":{"orient":"right","values":[20,25,30,35],"labels":false,"title":null,"tickSize":-15,"domain":false}},
   "y2":{"datum":20}}},
 {"data":{"name":"boxes"},"transform":[{"filter":"datum.panel==='bottom'"}],
  "mark":{"type":"rule","color":"#111","strokeWidth":2},
  "encoding":{
   "x":{"field":"site","type":"nominal","axis":{"orient":"bottom","title":null,"labelAngle":-90,"labelFontSize":19,"labelPadding":-14,"tickSize":-8,"tickBand":"extent","domain":false}},
   "y":{"field":"lo","type":"quantitative","axis":{"orient":"left","title":"Temperature (C)","titleFontSize":24,"titlePadding":7,"titleY":214,"labelFontSize":23,"labelPadding":23,"tickSize":-8,"domain":false,"format":"d","values":[20,20.5,21,21.5,22,22.5,23,23.5,24,24.5,25,25.5,26,26.5,27,27.5,28,28.5,29,29.5,30,30.5,31,31.5,32,32.5,33,33.5,34,34.5,35],"labelExpr":"datum.value % 5 === 0 ? datum.label : ''"}},
   "y2":{"field":"hi"}}},
 {"data":{"name":"boxes"},"transform":[{"filter":"datum.panel==='bottom'"}],
  "mark":{"type":"tick","color":"#111","thickness":2,"size":22,"opacity":1},
  "encoding":{"x":{"field":"site","type":"nominal","axis":null},"y":{"field":"lo","type":"quantitative","axis":null}}},
 {"data":{"name":"boxes"},"transform":[{"filter":"datum.panel==='bottom'"}],
  "mark":{"type":"tick","color":"#111","thickness":2,"size":22,"opacity":1},
  "encoding":{"x":{"field":"site","type":"nominal","axis":null},"y":{"field":"hi","type":"quantitative","axis":null}}},
 {"data":{"name":"boxes"},"transform":[{"filter":"datum.panel==='bottom'"}],
  "mark":{"type":"bar","fill":"white","stroke":"#111","strokeWidth":2,"width":40},
  "encoding":{"x":{"field":"site","type":"nominal","axis":null},"y":{"field":"q1","type":"quantitative","axis":null},"y2":{"field":"q3"}}},
 {"data":{"name":"boxes"},"transform":[{"filter":"datum.panel==='bottom'"}],
  "mark":{"type":"tick","color":"#111","thickness":2,"size":41,"opacity":1},
  "encoding":{"x":{"field":"site","type":"nominal","axis":null},"y":{"field":"med","type":"quantitative","axis":null}}},
 {"data":{"name":"outliers"},"transform":[{"filter":"datum.panel==='bottom'"}],
  "mark":{"type":"point","shape":"circle","filled":true,"fill":"white","stroke":"#111","strokeWidth":1.5,"size":64,"opacity":1},
  "encoding":{"x":{"field":"site","type":"nominal","axis":null},"y":{"field":"v","type":"quantitative","axis":null}}},
 {"data":{"values":[{"limit":"WWH/MWH Max","v":29.8}]},
  "mark":{"type":"rule","color":"#111","strokeWidth":2},
  "encoding":{"y":{"field":"v","type":"quantitative","axis":null}}},
 {"data":{"values":[{"limit":"WWH/MWH Avg.","v":26.3}]},
  "mark":{"type":"rule","color":"#111","strokeWidth":1.8,"strokeDash":[16,10]},
  "encoding":{"y":{"field":"v","type":"quantitative","axis":null}}},
 {"data":{"values":[{"site":"(MC09) RM 6.9"}]},
  "mark":{"type":"rule","color":"#111","strokeWidth":2},
  "encoding":{"x":{"field":"site","type":"nominal","bandPosition":0.05,"axis":null}}},
 {"data":{"name":"stars"},"transform":[{"filter":"datum.panel==='bottom'"}],
  "mark":{"type":"point","shape":"M0,-1L0,1M-0.87,-0.5L0.87,0.5M-0.87,0.5L0.87,-0.5","size":576,"filled":false,"stroke":"#000","strokeWidth":4.5,"opacity":1},
  "encoding":{"x":{"field":"site","type":"nominal","bandPosition":0.65,"axis":null},"y":{"field":"v","type":"quantitative","axis":null}}},
 {"data":{"values":[{"site":"(MC21) RM 3.3","v":33.8,"label":"East Fork Mill Creek"}]},
  "mark":{"type":"text","align":"left","baseline":"middle","fontSize":23,"fontStyle":"italic","color":"#333"},
  "encoding":{"x":{"field":"site","type":"nominal","bandPosition":0.25,"axis":null},"y":{"field":"v","type":"quantitative","axis":null},"text":{"field":"label"}}},
 {"data":{"values":[{"site":"(MC06) RM 16.6","v":31.1,"label":"WWH/MWH Avg."}]},
  "mark":{"type":"text","align":"left","baseline":"middle","fontSize":18,"color":"#333"},
  "encoding":{"x":{"field":"site","type":"nominal","bandPosition":0.43,"axis":null},"y":{"field":"v","type":"quantitative","axis":null},"text":{"field":"label"}}},
 {"data":{"values":[{"site":"(MC02) RM 13.2","v":31.69,"label":"WWH/MWH Max"}]},
  "mark":{"type":"text","align":"left","baseline":"middle","fontSize":18,"color":"#333"},
  "encoding":{"x":{"field":"site","type":"nominal","bandPosition":0.28,"axis":null},"y":{"field":"v","type":"quantitative","axis":null},"text":{"field":"label"}}},
 {"data":{"values":[{"site":"(MC05) RM 2.5","v":31.69,"label":"WWH/MWH Max"}]},
  "mark":{"type":"text","align":"left","baseline":"middle","fontSize":18,"color":"#333"},
  "encoding":{"x":{"field":"site","type":"nominal","bandPosition":0.23,"axis":null},"y":{"field":"v","type":"quantitative","axis":null},"text":{"field":"label"}}},
 {"data":{"values":[{"site":"(MC80) RM 10.0","v":28.24,"label":"WWH"}]},
  "mark":{"type":"text","align":"center","baseline":"middle","fontSize":33,"fontStyle":"italic","fontWeight":"bold","color":"#000"},
  "encoding":{"x":{"field":"site","type":"nominal","bandPosition":0,"axis":null},"y":{"field":"v","type":"quantitative","axis":null},"text":{"field":"label"}}},
 {"data":{"values":[{"site":"(MC75) RM 5.1","v":31.75,"label":"MWH"}]},
  "mark":{"type":"text","align":"center","baseline":"middle","fontSize":34.5,"fontStyle":"italic","fontWeight":"bold","color":"#000"},
  "encoding":{"x":{"field":"site","type":"nominal","bandPosition":0.89,"axis":null},"y":{"field":"v","type":"quantitative","axis":null},"text":{"field":"label"}}},
 {"data":{"values":[{"site":"(MC04) RM 14.8","top":30.4,"bottom":26.9,"tip":26.64}]},
  "encoding":{"x":{"field":"site","type":"nominal","bandPosition":0.97,"axis":null}},
  "layer":[
   {"mark":{"type":"rule","color":"#111","strokeWidth":2},"encoding":{"y":{"field":"top","type":"quantitative","axis":null},"y2":{"field":"bottom"}}},
   {"mark":{"type":"point","shape":"M-0.7,-1L0.7,-1L0,1Z","size":324,"filled":true,"color":"#111","opacity":1},"encoding":{"y":{"field":"tip","type":"quantitative","axis":null}}}]},
 {"data":{"values":[{"site":"(MC01) RM 11.3","top":31.21,"bottom":30.56,"tip":30.26}]},
  "encoding":{"x":{"field":"site","type":"nominal","bandPosition":0.32,"axis":null}},
  "layer":[
   {"mark":{"type":"rule","color":"#111","strokeWidth":2},"encoding":{"y":{"field":"top","type":"quantitative","axis":null},"y2":{"field":"bottom"}}},
   {"mark":{"type":"point","shape":"M-0.7,-1L0.7,-1L0,1Z","size":324,"filled":true,"color":"#111","opacity":1},"encoding":{"y":{"field":"tip","type":"quantitative","axis":null}}}]},
 {"data":{"values":[{"site":"(MC03) RM 1.7","top":31.21,"bottom":30.56,"tip":30.26}]},
  "encoding":{"x":{"field":"site","type":"nominal","bandPosition":0.26,"axis":null}},
  "layer":[
   {"mark":{"type":"rule","color":"#111","strokeWidth":2},"encoding":{"y":{"field":"top","type":"quantitative","axis":null},"y2":{"field":"bottom"}}},
   {"mark":{"type":"point","shape":"M-0.7,-1L0.7,-1L0,1Z","size":324,"filled":true,"color":"#111","opacity":1},"encoding":{"y":{"field":"tip","type":"quantitative","axis":null}}}]}
]
}
]
}
